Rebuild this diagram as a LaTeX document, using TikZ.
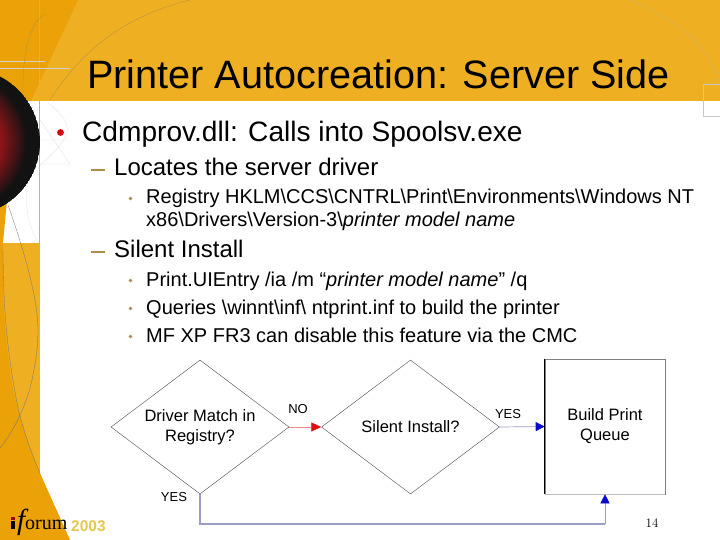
\documentclass[tikz,border=0pt]{standalone}
\usepackage{fontspec}
\setmainfont{Liberation Sans}
\newfontfamily\logofont{Liberation Serif}
\usetikzlibrary{arrows.meta,shapes.geometric}
\definecolor{gold}{HTML}{EEAF22}
\definecolor{deep}{HTML}{EBA208}
\definecolor{dashcol}{HTML}{AD8E45}
\definecolor{flowblue}{HTML}{9C9CC8}
\definecolor{tipblue}{HTML}{0A0ACD}
\definecolor{tipred}{HTML}{E01010}
\definecolor{bulletred}{HTML}{D00A14}
\definecolor{logoY}{HTML}{E6C850}
\definecolor{sphereE}{HTML}{121212}
\definecolor{sphereC}{HTML}{8E1418}
\tikzset{
 x=1pt,y=-1pt,
 txt/.style={anchor=base west,inner sep=0pt,text=black},
 decision/.style={diamond,draw=black!65,line width=.45pt,minimum width=178pt,minimum height=134pt,inner sep=0pt,aspect=1.33,align=center,font=\fontsize{16.5}{20}\selectfont},
 boxnode/.style={draw=black!50,line width=.6pt,minimum width=120pt,minimum height=135pt,align=center,inner sep=0pt,font=\fontsize{16.5}{20}\selectfont},
 lab/.style={inner sep=0pt,font=\fontsize{13}{15}\selectfont},
 subdot/.style={fill=dashcol!80!gray},
}
\begin{document}
\begin{tikzpicture}
\useasboundingbox (0,0) rectangle (720,540);
\fill[white] (0,0) rectangle (720,540);
% header
\fill[gold] (0,0) rectangle (720,101);
\fill[deep] (0,0) -- (78,0) -- (31,101) -- (0,101) -- cycle;
% left band
\fill[gold] (0,243) rectangle (40,540);
\fill[deep] (0,200) -- (7,200) -- (3,243) -- (3,290) .. controls (4,320) and (7,350) .. (10,370) .. controls (12,385) and (15,398) .. (19,412) .. controls (25,435) and (32,455) .. (40,473) -- (70,540) -- (0,540) -- cycle;
% guide lines
\draw[black!30,line width=.35pt] (39.5,0) -- (39.5,243);
\draw[black!18,line width=.3pt] (0,61) -- (45,61) (0,68) -- (70,68);
\draw[dashcol,line width=.3pt] (23,100) .. controls (22,50) and (30,25) .. (43,15);
\draw[dashcol,line width=.3pt] (50,100) .. controls (85,45) and (130,15) .. (190,0);
\draw[dashcol!70,line width=.3pt] (630,0) .. controls (680,20) and (712,50) .. (720,85);
\draw[black!22,line width=.3pt] (703,84) rectangle (720,116);
\draw[black!12,line width=.3pt] (40,140) -- (70,140) (40,164) -- (70,164) (70,164) -- (40,120);
\draw[black!12,line width=.3pt] (48,103) .. controls (75,125) and (75,135) .. (40,165);
\draw[black!10,line width=.3pt] (27,190) .. controls (25,210) and (30,230) .. (38,242);
\draw[black!55,line width=.3pt] (8,205) .. controls (15,225) and (38,290) .. (38,330) .. controls (38,350) and (35,365) .. (32,380);
\draw[black!55,line width=.3pt] (32,380) .. controls (28,400) and (15,430) .. (0,448);
\draw[black!55,line width=.3pt] (3,250) .. controls (3,320) and (10,370) .. (19,412) .. controls (25,435) and (32,455) .. (40,473);
% sphere
\begin{scope}
\clip (-33.6,142) circle (73.6);
\fill[sphereE] (-33.6,142) circle (73.6);
\foreach \r [evaluate=\r as \m using {min(100,(70-\r)*100/26)}] in {70,68.5,...,40}
  \fill[sphereC!\m!sphereE] (-42,142) circle (\r);
\end{scope}
% title and text
\node[txt,font=\fontsize{39.6}{44}\selectfont] (title) at (87,89) {Printer Autocreation: Server Side};
\fill[bulletred] (60.5,132.5) circle (3.4);
\node[txt,font=\fontsize{28.1}{30}\selectfont] (l1) at (82,141.5) {Cdmprov.dll: Calls into Spoolsv.exe};
\fill[dashcol] (91,169) rectangle (105,171);
\node[txt,font=\fontsize{24}{26}\selectfont] (l2) at (114,176) {Locates the server driver};
\fill[subdot] (130.5,198.5) circle (1.9);
\node[txt,font=\fontsize{20}{22}\selectfont] (l3) at (146,204) {Registry HKLM\textbackslash CCS\textbackslash CNTRL\textbackslash Print\textbackslash Environments\textbackslash Windows NT};
\node[txt,font=\fontsize{20}{22}\selectfont] (l3b) at (146,226) {x86\textbackslash Drivers\textbackslash Version-3\textbackslash\textit{printer model name}};
\fill[dashcol] (91,251) rectangle (105,253);
\node[txt,font=\fontsize{24}{26}\selectfont] (l4) at (114,258) {Silent Install};
\fill[subdot] (130.5,280.5) circle (1.9);
\node[txt,font=\fontsize{20}{22}\selectfont] (l5) at (146,286) {Print.UIEntry /ia /m “\textit{printer model name}” /q};
\fill[subdot] (130.5,308.5) circle (1.9);
\node[txt,font=\fontsize{20}{22}\selectfont] (l6) at (146,314) {Queries \textbackslash winnt\textbackslash inf\textbackslash{} ntprint.inf to build the printer};
\fill[subdot] (130.5,336.5) circle (1.9);
\node[txt,font=\fontsize{20}{22}\selectfont] (l7) at (146,342) {MF XP FR3 can disable this feature via the CMC};
% flow
\node[decision] (d1) at (200,427) {Driver Match in\\Registry?};
\node[decision] (d2) at (410.5,427) {Silent Install?};
\node[boxnode] (b) at (605,426.5) {Build Print\\Queue};
\draw[black,line width=.7pt] (b.north west) -- (b.south west);
\draw[black!25,line width=.6pt] (b.south west) -- (b.south east);
\draw[tipred!50,line width=.6pt,-{Triangle[length=10pt,width=9pt,color=tipred]}] (d1.east) -- (d2.west);
\draw[flowblue,line width=.7pt,-{Triangle[length=9pt,width=9pt,color=tipblue]}] (d2.east) -- (b.west);
\coordinate (corner) at (200,524);
\coordinate (turn) at (605,524);
\draw[flowblue,line width=2pt] (d1.south) -- (corner) -- (turn);
\draw[flowblue,line width=.6pt,-{Triangle[length=9pt,width=9pt,color=tipblue]}] (turn) -- (b.south);
\node[lab] (no) at (298,409) {NO};
\node[lab] (y1) at (508,414) {YES};
\node[lab] (y2) at (174,497) {YES};
\node[inner sep=0pt,font=\fontfamily{lmr}\fontsize{13}{15}\selectfont] (pg) at (652,523) {14};
% logo
\fill[bulletred!70!black] (11,516.5) rectangle (14.5,520);
\fill[black] (11,521) rectangle (14.5,529);
\node[inner sep=0pt,anchor=base west] (logof) at (17,529) {\logofont\fontsize{29}{30}\selectfont\textit{f}};
\node[inner sep=0pt,anchor=base west] (logob) at (25,529) {\logofont\fontsize{20}{22}\selectfont orum};
\node[inner sep=0pt,anchor=base west,text=logoY,font=\fontsize{15.5}{16}\bfseries\selectfont] (logoc) at (71,531) {2003};
\end{tikzpicture}
\end{document}
